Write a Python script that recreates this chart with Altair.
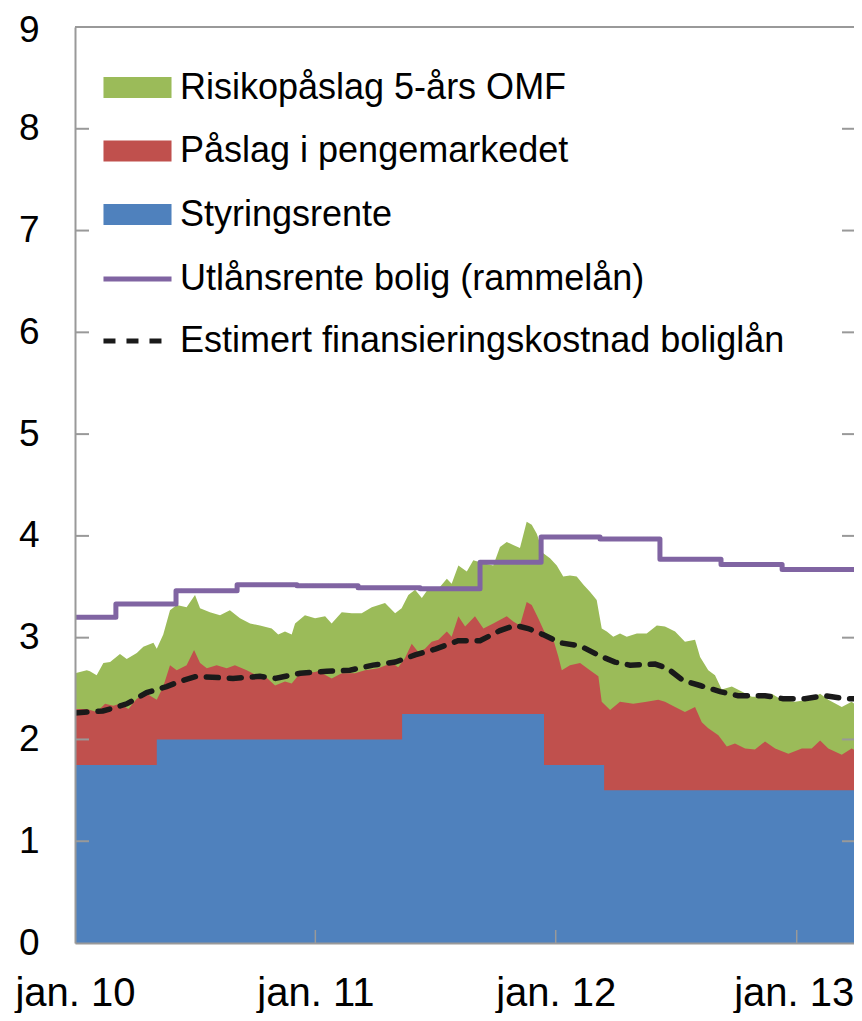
import altair as alt
import numpy as np
import pandas as pd

# Time is given in decimal years since jan. 2010; values in percent.
rate_t = [0.0, 0.34, 1.36, 1.95, 2.20, 3.273]
rate_v = [1.75, 2.00, 2.25, 1.75, 1.50, 1.50]

nibor_t = [0.0, 0.049, 0.090, 0.125, 0.159, 0.187, 0.222, 0.257, 0.298, 0.340, 0.367, 0.395,
           0.423, 0.464, 0.495, 0.520, 0.548, 0.589, 0.631, 0.665, 0.714, 0.756, 0.790, 0.832,
           0.873, 0.901, 0.929, 0.970, 1.012, 1.067, 1.109, 1.164, 1.206, 1.261, 1.317, 1.344,
           1.372, 1.400, 1.427, 1.455, 1.483, 1.511, 1.546, 1.566, 1.594, 1.622, 1.663, 1.698,
           1.739, 1.795, 1.822, 1.850, 1.878, 1.899, 1.926, 1.961, 1.989, 2.010, 2.024, 2.058,
           2.100, 2.141, 2.176, 2.190, 2.225, 2.266, 2.321, 2.377, 2.425, 2.453, 2.495, 2.536,
           2.578, 2.606, 2.633, 2.675, 2.710, 2.744, 2.786, 2.827, 2.869, 2.911, 2.966, 3.022,
           3.063, 3.098, 3.132, 3.188, 3.229, 3.273]
nibor_v = [2.30, 2.30, 2.27, 2.35, 2.33, 2.35, 2.30, 2.40, 2.45, 2.39, 2.52, 2.73,
           2.68, 2.73, 2.88, 2.75, 2.70, 2.73, 2.70, 2.73, 2.68, 2.63, 2.62, 2.53,
           2.57, 2.55, 2.63, 2.65, 2.67, 2.60, 2.65, 2.65, 2.68, 2.70, 2.75, 2.71,
           2.80, 2.94, 2.86, 2.89, 2.96, 2.98, 3.06, 3.01, 3.21, 3.11, 3.21, 3.09,
           3.14, 3.21, 3.16, 3.12, 3.35, 3.32, 3.19, 3.01, 2.98, 2.81, 2.68, 2.73,
           2.75, 2.68, 2.62, 2.37, 2.29, 2.37, 2.35, 2.37, 2.39, 2.37, 2.32, 2.27,
           2.32, 2.17, 2.11, 2.04, 1.93, 1.96, 1.91, 1.90, 1.98, 1.91, 1.86, 1.91,
           1.91, 1.99, 1.91, 1.85, 1.91, 1.86]

omf_t = [0.0, 0.049, 0.062, 0.090, 0.118, 0.146, 0.187, 0.215, 0.257, 0.284, 0.326, 0.340,
         0.367, 0.395, 0.423, 0.464, 0.499, 0.520, 0.561, 0.603, 0.644, 0.686, 0.728, 0.769,
         0.818, 0.845, 0.873, 0.901, 0.915, 0.956, 0.998, 1.040, 1.067, 1.109, 1.151, 1.192,
         1.234, 1.289, 1.331, 1.358, 1.386, 1.414, 1.442, 1.469, 1.511, 1.546, 1.566, 1.594,
         1.629, 1.656, 1.698, 1.739, 1.767, 1.795, 1.822, 1.850, 1.878, 1.899, 1.920, 1.947,
         1.975, 2.003, 2.030, 2.058, 2.086, 2.114, 2.141, 2.169, 2.190, 2.211, 2.238, 2.266,
         2.294, 2.336, 2.377, 2.419, 2.453, 2.495, 2.536, 2.578, 2.599, 2.633, 2.661, 2.689,
         2.731, 2.772, 2.814, 2.855, 2.897, 2.938, 2.994, 3.049, 3.098, 3.132, 3.188, 3.229,
         3.273]
omf_v = [2.65, 2.68, 2.67, 2.63, 2.75, 2.76, 2.84, 2.79, 2.85, 2.91, 2.95, 2.89,
         3.03, 3.27, 3.32, 3.30, 3.42, 3.29, 3.25, 3.22, 3.27, 3.19, 3.14, 3.12,
         3.09, 3.03, 3.06, 3.03, 3.14, 3.22, 3.19, 3.21, 3.14, 3.25, 3.24, 3.24,
         3.30, 3.34, 3.24, 3.29, 3.42, 3.47, 3.39, 3.48, 3.48, 3.58, 3.53, 3.71,
         3.65, 3.76, 3.73, 3.71, 3.89, 3.94, 3.91, 3.88, 4.14, 4.11, 4.02, 3.83,
         3.78, 3.71, 3.60, 3.61, 3.60, 3.52, 3.45, 3.37, 3.09, 3.06, 3.01, 3.04,
         3.01, 3.04, 3.04, 3.12, 3.11, 3.06, 2.96, 2.98, 2.81, 2.68, 2.63, 2.49,
         2.52, 2.47, 2.42, 2.42, 2.45, 2.39, 2.37, 2.39, 2.45, 2.39, 2.32, 2.37,
         2.30]

lend_t = [0.0, 0.17, 0.42, 0.674, 0.923, 1.177, 1.435, 1.684, 1.938, 2.183, 2.432, 2.686, 2.94, 3.273]
lend_v = [3.20, 3.33, 3.46, 3.52, 3.51, 3.49, 3.48, 3.74, 3.99, 3.97, 3.77, 3.72, 3.67, 3.67]

cost_t = [0.0, 0.116, 0.146, 0.215, 0.298, 0.381, 0.449, 0.506, 0.657, 0.769, 0.832, 0.936,
          1.047, 1.143, 1.239, 1.331, 1.414, 1.501, 1.593, 1.684, 1.767, 1.830, 1.884, 1.946,
          2.017, 2.100, 2.183, 2.245, 2.308, 2.412, 2.462, 2.528, 2.599, 2.682, 2.757, 2.869,
          2.944, 3.035, 3.119, 3.202, 3.273]
cost_v = [2.26, 2.28, 2.30, 2.35, 2.46, 2.52, 2.58, 2.62, 2.60, 2.62, 2.60, 2.65,
          2.67, 2.68, 2.73, 2.76, 2.83, 2.89, 2.97, 2.97, 3.07, 3.12, 3.09, 3.03,
          2.95, 2.92, 2.82, 2.76, 2.73, 2.74, 2.70, 2.58, 2.53, 2.47, 2.43, 2.43,
          2.40, 2.40, 2.43, 2.40, 2.40]

names_fill = ["Risikopåslag 5-års OMF", "Påslag i pengemarkedet", "Styringsrente"]
colors_fill = ["#9bbb59", "#c0504d", "#4f81bd"]
names_line = ["Utlånsrente bolig (rammelån)", "Estimert finansieringskostnad boliglån"]
colors_line = ["#8064a2", "#1a1a1a"]

year_ticks = [2010, 2011, 2012, 2013]
y_ticks = [1, 2, 3, 4, 5, 6, 7, 8]

FONT = "Liberation Sans"
START = pd.Timestamp("2010-01-01")
W, H = 779, 916


def frame(t, v, name):
    d = START + pd.to_timedelta(np.array(t) * 365.25, unit="D")
    return pd.DataFrame({"dato": d, "verdi": v, "serie": name})


omf = frame(omf_t, omf_v, names_fill[0])
nibor = frame(nibor_t, nibor_v, names_fill[1])
rate = frame(rate_t, rate_v, names_fill[2])
lend = frame(lend_t, lend_v, names_line[0])
cost = frame(cost_t, cost_v, names_line[1])

xdom = [alt.DateTime(year=2010, month=1, date=1), alt.DateTime(year=2013, month=3, date=29)]
xscale = alt.Scale(domain=xdom, nice=False)
yscale = alt.Scale(domain=[0, 9], nice=False, zero=True)

xaxis = alt.Axis(
    values=[alt.DateTime(year=y, month=1, date=1) for y in year_ticks],
    labelExpr="'jan. ' + timeFormat(datum.value, '%y')",
    ticks=False, grid=False, domainColor="#999999", domainWidth=2,
    labelFontSize=40, labelFont=FONT, labelColor="black", labelPadding=30,
    labelOffset={"condition": {"test": "year(datum.value) == 2013", "value": -3}, "value": 0},
    labelFlush=False, labelOverlap=False, title=None, zindex=1,
)
yaxis = alt.Axis(
    values=list(range(0, 10)), format="d", ticks=False, grid=False, domainColor="#999999",
    domainWidth=2, labelFontSize=37, labelFont=FONT, labelColor="black",
    labelPadding=36, title=None, zindex=1,
    labelOffset={"condition": {"test": "datum.value == 9", "value": 3}, "value": 0},
)

fill_scale = alt.Scale(domain=names_fill, range=colors_fill)
fill_legend = alt.Legend(
    title=None, orient="none", legendX=44.5, legendY=42.5, padding=0,
    symbolType="M-3.24,-1H3.24V1H-3.24Z", symbolSize=441, symbolStrokeWidth=0,
    labelFontSize=36, labelFont=FONT, labelColor="black", labelOffset=24.5,
    labelLimit=0, rowPadding=27.5, symbolOpacity=1,
)
stroke_scale = alt.Scale(domain=names_line, range=colors_line)
dash_scale = alt.Scale(domain=names_line, range=[[1, 0], [12, 11]])
stroke_legend = alt.Legend(
    title=None, orient="none", legendX=44.5, legendY=234, padding=0,
    symbolType="M-3.24,0H3.24", symbolSize=441, symbolStrokeWidth=5,
    labelFontSize=36, labelFont=FONT, labelColor="black", labelOffset=24.5,
    labelLimit=0, rowPadding=26,
)

X = alt.X("dato:T", scale=xscale, axis=xaxis)
Y = alt.Y("verdi:Q", scale=yscale, axis=yaxis)

green = alt.Chart(omf).mark_area(clip=True).encode(
    x=X, y=Y, fill=alt.Fill("serie:N", scale=fill_scale, legend=fill_legend))
red = alt.Chart(nibor).mark_area(clip=True).encode(
    x=X, y=Y, fill=alt.Fill("serie:N", scale=fill_scale, legend=fill_legend))
blue = alt.Chart(rate).mark_area(clip=True, interpolate="step-after").encode(
    x=X, y=Y, fill=alt.Fill("serie:N", scale=fill_scale, legend=fill_legend))

purple = alt.Chart(lend).mark_line(clip=True, interpolate="step-after", strokeWidth=5,
                                   strokeJoin="round").encode(
    x=X, y=Y,
    stroke=alt.Stroke("serie:N", scale=stroke_scale, legend=stroke_legend),
    strokeDash=alt.StrokeDash("serie:N", scale=dash_scale, legend=stroke_legend))
dashed = alt.Chart(cost).mark_line(clip=True, strokeWidth=5.5, strokeCap="round").encode(
    x=X, y=Y,
    stroke=alt.Stroke("serie:N", scale=stroke_scale, legend=stroke_legend),
    strokeDash=alt.StrokeDash("serie:N", scale=dash_scale, legend=stroke_legend))

top_line = alt.Chart(pd.DataFrame({"v": [9]})).mark_rule(color="#999999", strokeWidth=2).encode(
    y=alt.Y("v:Q", scale=yscale))
ydf = pd.DataFrame({"v": y_ticks})
left_ticks = alt.Chart(ydf).mark_rule(color="#999999", strokeWidth=2).encode(
    y=alt.Y("v:Q", scale=yscale), x=alt.value(0), x2=alt.value(14))
right_ticks = alt.Chart(ydf).mark_rule(color="#999999", strokeWidth=2).encode(
    y=alt.Y("v:Q", scale=yscale), x=alt.value(W - 12), x2=alt.value(W))
xdf = pd.DataFrame({"d": [pd.Timestamp(f"{y}-01-01") for y in year_ticks[1:]]})
bottom_ticks = alt.Chart(xdf).mark_rule(color="#999999", strokeWidth=1.5).encode(
    x=alt.X("d:T", scale=xscale), y=alt.value(H - 13), y2=alt.value(H))

chart = alt.layer(
    green, red, blue, purple, dashed, top_line, left_ticks, right_ticks, bottom_ticks
).resolve_scale(fill="shared", stroke="shared", strokeDash="shared").properties(
    width=W, height=H,
    autosize=alt.AutoSizeParams(type="none"),
    padding={"left": 67, "top": 19, "right": 0, "bottom": 70},
).configure_view(stroke=None).configure(background="white")

chart.save("out.html", embed_options={"renderer": "svg", "actions": False})
